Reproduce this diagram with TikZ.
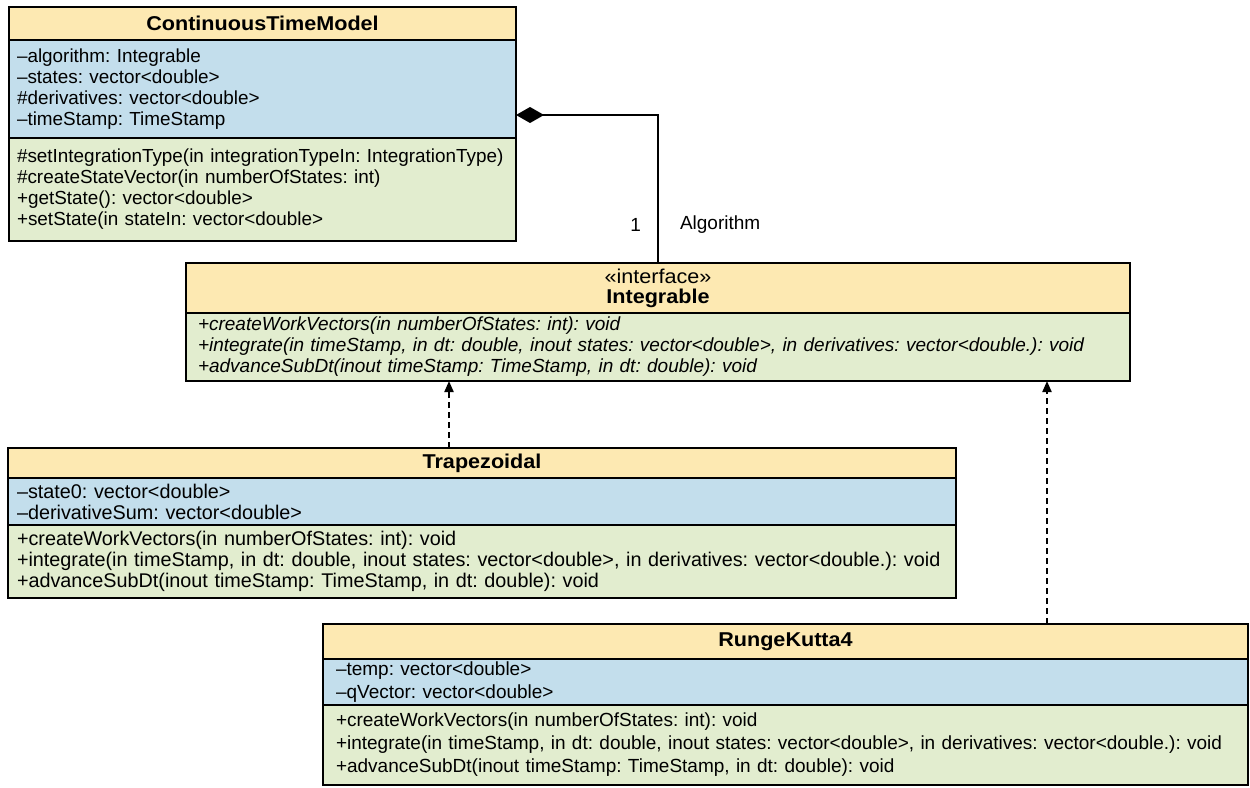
\documentclass[tikz,border=0pt]{standalone}
\usepackage{fontspec}
\setmainfont{Liberation Sans}
\newfontfamily\hdrfont[FakeStretch=1.08]{Liberation Sans}
\usetikzlibrary{positioning}
\usetikzlibrary{arrows.meta}
\definecolor{hdrcol}{RGB}{253,233,178}
\definecolor{attcol}{RGB}{195,222,236}
\definecolor{metcol}{RGB}{226,237,207}
\frenchspacing
\hyphenpenalty=10000

\begin{document}
\begin{tikzpicture}[x=1pt, y=-1pt, every node/.style={inner sep=0, outer sep=0, font=\fontsize{19}{21}\selectfont}, node distance=0,
		box/.style={draw, line width=2pt, anchor=north west, inner xsep=9pt, inner ysep=2pt},
		hdr/.style={box, fill=hdrcol, align=center, font=\hdrfont\fontsize{20}{20}\selectfont\bfseries},
		att/.style={box, fill=attcol, align=left},
		met/.style={box, fill=metcol, align=left},
		real/.style={line width=2pt, dash pattern=on 6pt off 4pt, -{Triangle[length=11pt,width=9pt]}},
		comp/.style={line width=2pt, -{Diamond[length=28pt,width=16pt]}}]
		
		\useasboundingbox (0,0) rectangle (1250,787);
		
		%Nodes
		\node[hdr, text width=491pt, inner xsep=8pt, minimum height=33pt] (11) at (9,7) {ContinuousTimeModel};
		\node[att, font=\fontsize{18.9}{21}\selectfont, text width=491pt, inner xsep=8pt, minimum height=98pt] (12) [below=of 11.south west, anchor=north west] {–algorithm: Integrable\\–states: vector<double>\\\#derivatives: vector<double>\\–timeStamp: TimeStamp};
		\node[met, font=\fontsize{18.9}{21}\selectfont, text width=491pt, inner xsep=8pt, minimum height=103pt] (13) [below=of 12.south west, anchor=north west] {\#setIntegrationType(in integrationTypeIn: IntegrationType)\\\#createStateVector(in numberOfStates: int)\\+getState(): vector<double>\\+setState(in stateIn: vector<double>};
		
		\node[hdr, font=\hdrfont\fontsize{20}{20}\selectfont, text width=920pt, inner xsep=12pt, minimum height=50pt] (21) at (186,263) {«interface»\\\textbf{Integrable}};
		\node[met, font=\fontsize{19}{21}\selectfont\itshape, text width=920pt, inner xsep=12pt, minimum height=68pt] (22) [below=of 21.south west, anchor=north west] {+createWorkVectors(in numberOfStates: int): void\\+integrate(in timeStamp, in dt: double, inout states: vector<double>, in derivatives: vector<double.): void\\+advanceSubDt(inout timeStamp: TimeStamp, in dt: double): void};
		
		\node[hdr, text width=930pt, inner xsep=9pt, minimum height=30pt] (31) at (8,448) {Trapezoidal};
		\node[att, font=\fontsize{19.8}{21}\selectfont, text width=930pt, inner xsep=9pt, minimum height=47pt] (32) [below=of 31.south west, anchor=north west] {–state0: vector<double>\\–derivativeSum: vector<double>};
		\node[met, font=\fontsize{19.8}{21}\selectfont, text width=930pt, inner xsep=9pt, minimum height=73pt] (33) [below=of 32.south west, anchor=north west] {+createWorkVectors(in numberOfStates: int): void\\+integrate(in timeStamp, in dt: double, inout states: vector<double>, in derivatives: vector<double.): void\\+advanceSubDt(inout timeStamp: TimeStamp, in dt: double): void};
		
		\node[hdr, text width=899pt, inner xsep=13pt, minimum height=35pt] (41) at (323,624) {RungeKutta4};
		\node[att, font=\fontsize{19}{23}\selectfont, text width=899pt, inner xsep=13pt, minimum height=46pt] (42) [below=of 41.south west, anchor=north west] {–temp: vector<double>\\–qVector: vector<double>};
		\node[met, font=\fontsize{19}{23}\selectfont, text width=899pt, inner xsep=13pt, minimum height=80pt] (43) [below=of 42.south west, anchor=north west] {+createWorkVectors(in numberOfStates: int): void\\+integrate(in timeStamp, in dt: double, inout states: vector<double>, in derivatives: vector<double.): void\\+advanceSubDt(inout timeStamp: TimeStamp, in dt: double): void};
		
		%Lines
		\draw[comp] (21.north) |- node[pos=0.13, left=17pt] (51) {1} node[pos=0.13, right=22pt] (52) {Algorithm} ([yshift=-26pt]12.east);
		\draw[real] ([xshift=441pt]31.north west) -- ([xshift=263pt]22.south west);
		\draw[real] ([xshift=724pt]41.north west) -- ([xshift=861pt]22.south west);
	\end{tikzpicture}
\end{document}
